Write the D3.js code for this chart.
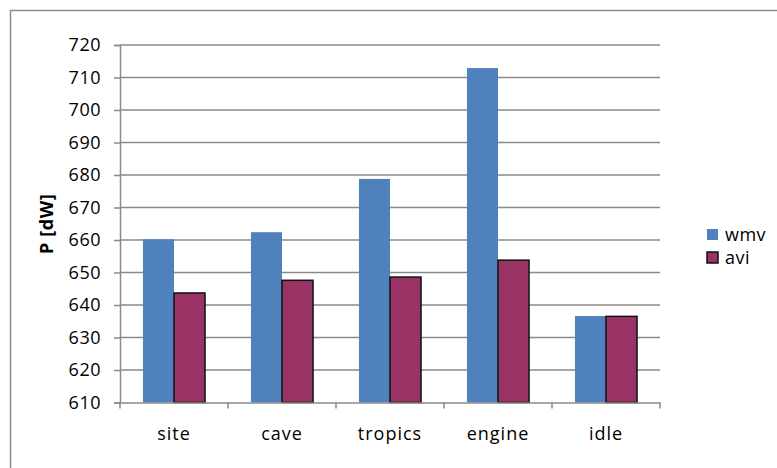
<!DOCTYPE html>
<html>
<head>
<meta charset="utf-8">
<script src="https://cdn.jsdelivr.net/npm/d3@7"></script>
<style>
  html, body { margin: 0; padding: 0; background: #fff; }
  svg { display: block; font-family: "Open Sans", sans-serif; }
</style>
</head>
<body>
<svg id="chart" width="777" height="468"></svg>
<script>
// Power draw per scenario, by video container
const categories = ["site", "cave", "tropics", "engine", "idle"];
const seriesNames = ["wmv", "avi"];
const wmvValues = [660.2, 662.4, 678.8, 712.9, 636.6];
const aviValues = [643.7, 647.6, 648.6, 653.8, 636.5];
const yTicks = [610, 620, 630, 640, 650, 660, 670, 680, 690, 700, 710, 720];
const yLabel = "P [dW]";

const colors = { wmv: "#4F81BD", avi: "#993366" };
const gridColor = "#8a8a8a";
const font = "'Open Sans', sans-serif";

const svg = d3.select("#chart");
const W = 777, H = 468;

// outer chart frame (runs past the right and bottom edges)
svg.append("rect")
  .attr("x", 10.5).attr("y", 10.5)
  .attr("width", W + 20).attr("height", H + 20)
  .attr("fill", "#fff")
  .attr("stroke", "#8c8c8c")
  .attr("stroke-width", 1.5);

const plot = { left: 120, right: 660, top: 45, bottom: 402.5 };

const x = d3.scaleBand()
  .domain(categories)
  .range([plot.left, plot.right])
  .paddingInner(0)
  .paddingOuter(0);

const x1 = d3.scaleBand()
  .domain(seriesNames)
  .range([0, x.bandwidth()])
  .paddingOuter(0.74)
  .paddingInner(0);

const y = d3.scaleLinear()
  .domain([610, 720])
  .range([plot.bottom, plot.top]);

// horizontal gridlines
svg.append("g")
  .selectAll("line")
  .data(yTicks.slice(1))
  .join("line")
  .attr("x1", plot.left).attr("x2", plot.right)
  .attr("y1", d => y(d)).attr("y2", d => y(d))
  .attr("stroke", gridColor)
  .attr("stroke-width", 1.5);

// y axis
const yAxis = svg.append("g")
  .attr("transform", `translate(${plot.left},0)`)
  .call(d3.axisLeft(y).tickValues(yTicks).tickSize(6).tickPadding(13));
yAxis.attr("font-family", font).attr("font-size", 18);
yAxis.select(".domain").attr("stroke", gridColor).attr("stroke-width", 1.5);
yAxis.selectAll(".tick line").attr("stroke", gridColor).attr("stroke-width", 1.5);
yAxis.selectAll(".tick text")
  .attr("fill", "#000")
  .style("letter-spacing", "0.5px");

// bars
const groups = svg.append("g")
  .selectAll("g")
  .data(categories.map((c, i) => ({ c, wmv: wmvValues[i], avi: aviValues[i] })))
  .join("g")
  .attr("transform", d => `translate(${x(d.c)},0)`);

groups.selectAll("rect")
  .data(d => seriesNames.map(s => ({ s, v: d[s] })))
  .join("rect")
  .attr("x", d => x1(d.s))
  .attr("width", x1.bandwidth())
  .attr("y", d => y(d.v))
  .attr("height", d => y(610) - y(d.v))
  .attr("fill", d => colors[d.s])
  .attr("stroke", d => d.s === "avi" ? "#111" : "none")
  .attr("stroke-width", 1.5);

// x axis
const xAxis = svg.append("g")
  .attr("transform", `translate(0,${plot.bottom})`)
  .call(d3.axisBottom(x).tickSize(0).tickPadding(25));
xAxis.attr("font-family", font).attr("font-size", 18);
xAxis.select(".domain").attr("stroke", gridColor).attr("stroke-width", 1.5);
xAxis.selectAll(".tick text")
  .attr("fill", "#000")
  .style("letter-spacing", "1px");

// category separators below the axis
svg.append("g")
  .selectAll("line")
  .data(categories.map(c => x(c)).concat([x.range()[1]]))
  .join("line")
  .attr("x1", d => d).attr("x2", d => d)
  .attr("y1", plot.bottom).attr("y2", plot.bottom + 6)
  .attr("stroke", gridColor)
  .attr("stroke-width", 1.5);

// y axis title
svg.append("text")
  .attr("transform", `translate(53,${(plot.top + plot.bottom) / 2}) rotate(-90)`)
  .attr("text-anchor", "middle")
  .style("font-family", font)
  .style("font-size", "18px")
  .style("font-weight", "bold")
  .style("letter-spacing", "0.6px")
  .text(yLabel);

// legend
const legend = svg.append("g").attr("transform", "translate(707,229)");
const items = legend.selectAll("g")
  .data(seriesNames)
  .join("g")
  .attr("transform", (d, i) => `translate(0,${i * 23})`);
items.append("rect")
  .attr("width", 11).attr("height", 11)
  .attr("fill", d => colors[d])
  .attr("stroke", d => d === "avi" ? "#111" : "none")
  .attr("stroke-width", 1.5);
items.append("text")
  .attr("x", 18).attr("y", 12)
  .style("font-family", font)
  .style("font-size", "18px")
  .style("letter-spacing", "0.5px")
  .text(d => d);
</script>
</body>
</html>
